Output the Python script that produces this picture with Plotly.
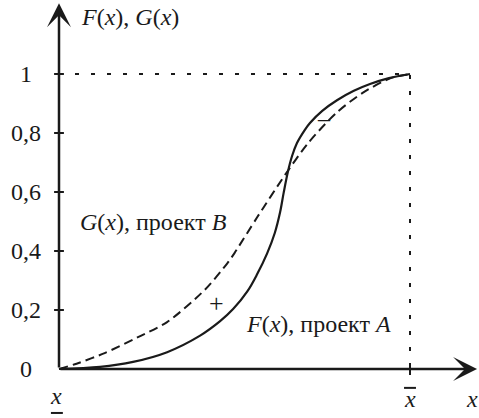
import plotly.graph_objects as go

# ---- data ----
F_x = [0, 0.117, 0.211, 0.308, 0.402, 0.459, 0.496, 0.536, 0.564, 0.593, 0.615, 0.630, 0.640,
       0.652, 0.664, 0.678, 0.700, 0.715, 0.750, 0.792, 0.840, 0.886, 0.940, 1.0]
F_y = [0, 0.007, 0.024, 0.057, 0.113, 0.162, 0.203, 0.262, 0.320, 0.392, 0.462, 0.532, 0.597,
       0.668, 0.722, 0.766, 0.810, 0.834, 0.875, 0.911, 0.943, 0.966, 0.986, 1.0]

G_x = [0, 0.05, 0.13, 0.225, 0.308, 0.415, 0.48, 0.50, 0.565, 0.644, 0.71, 0.79, 0.865, 0.945, 1.0]
G_y = [0, 0.018, 0.054, 0.108, 0.159, 0.268, 0.359, 0.393, 0.515, 0.658, 0.766, 0.868, 0.936, 0.986, 1.0]

y_ticks = [0, 0.2, 0.4, 0.6, 0.8, 1]
y_tick_labels = ["0", "0,2", "0,4", "0,6", "0,8", "1"]

x_low, x_high = 0, 1          # x (lower) and x̄ (upper bound)
x_arrow_end = 1.191
y_arrow_end = 1.240

FONT = "Liberation Serif, Times New Roman, serif"
FS = 24
INK = "#1a1a1a"

fig = go.Figure()

# dotted reference lines at F = 1 and x = x̄
fig.add_trace(go.Scatter(x=[x_low, x_high, x_high], y=[1, 1, 0], mode="lines",
                         line=dict(color=INK, width=2, dash="4px,12px"),
                         hoverinfo="skip", showlegend=False))

# G(x) dashed, F(x) solid
fig.add_trace(go.Scatter(x=G_x, y=G_y, mode="lines",
                         line=dict(color=INK, width=2, dash="9px,5px", shape="spline", smoothing=0.8),
                         showlegend=False))
fig.add_trace(go.Scatter(x=F_x, y=F_y, mode="lines",
                         line=dict(color=INK, width=2.2, shape="spline", smoothing=1.0),
                         showlegend=False))

# tick marks crossing the y-axis, and the tick at x̄
tx, ty = [], []
for v in y_ticks[1:]:
    tx += [-0.014, 0.014, None]
    ty += [v, v, None]
tx += [x_high, x_high, None]
ty += [-0.02, 0.017, None]
fig.add_trace(go.Scatter(x=tx, y=ty, mode="lines", line=dict(color=INK, width=2),
                         hoverinfo="skip", showlegend=False))

ann = []
# axes with arrows
ann.append(dict(x=x_arrow_end, y=0, ax=x_low, ay=0, xref="x", yref="y", axref="x", ayref="y",
                text="", showarrow=True, arrowhead=3, arrowsize=1.6, arrowwidth=2.5, arrowcolor=INK))
ann.append(dict(x=0, y=y_arrow_end, ax=0, ay=0, xref="x", yref="y", axref="x", ayref="y",
                text="", showarrow=True, arrowhead=3, arrowsize=1.6, arrowwidth=2.5, arrowcolor=INK))

# tick labels
for v, lab in zip(y_ticks, y_tick_labels):
    ann.append(dict(x=-0.094, y=v, text=lab, showarrow=False, xanchor="center", yanchor="middle",
                    font=dict(family=FONT, size=FS, color=INK)))

def txt(x, y, s, xa="left", size=FS):
    ann.append(dict(x=x, y=y, text=s, showarrow=False, xanchor=xa, yanchor="middle",
                    font=dict(family=FONT, size=size, color=INK)))

txt(0.058, 1.193, "<i>F</i>(<i>x</i>), <i>G</i>(<i>x</i>)")
txt(0.055, 0.498, "<i>G</i>(<i>x</i>), проект <i>B</i>")
txt(0.526, 0.154, "<i>F</i>(<i>x</i>), проект <i>A</i>")
txt(0.448, 0.222, "+", "center", 26)
txt(0.755, 0.851, "–", "center")
txt(-0.0085, -0.090, "<i>x</i>", "center")
txt(1.0, -0.100, "<i>x</i>", "center")
txt(1.1766, -0.100, "<i>x</i>", "center")

fig.update_layout(annotations=ann)

# bars: under x (lower bound) and over x̄
shapes = [
    dict(type="line", xref="x", yref="y", x0=-0.023, x1=0.011, y0=-0.149, y1=-0.149,
         line=dict(color=INK, width=2)),
    dict(type="line", xref="x", yref="y", x0=0.983, x1=1.017, y0=-0.064, y1=-0.064,
         line=dict(color=INK, width=2)),
]
fig.update_layout(shapes=shapes)

fig.update_layout(
    width=479, height=418,
    margin=dict(l=0, r=0, t=0, b=0),
    paper_bgcolor="white", plot_bgcolor="white",
    font=dict(family=FONT, size=FS, color=INK),
    xaxis=dict(range=[-59/351, 420/351], visible=False, fixedrange=True),
    yaxis=dict(range=[-49/295, 369/295], visible=False, fixedrange=True),
    showlegend=False,
)

fig.write_html("out.html")
